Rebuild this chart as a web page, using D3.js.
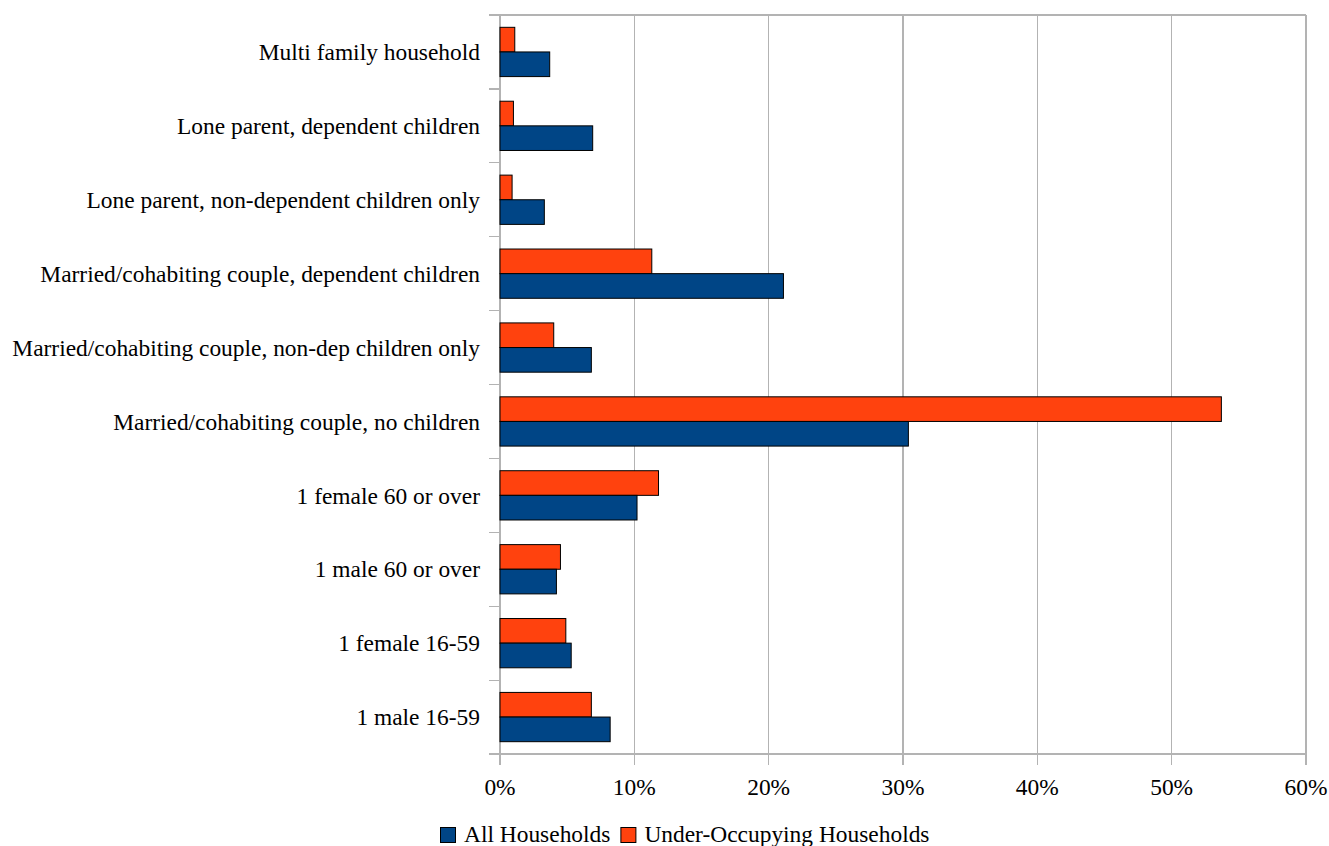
<!DOCTYPE html>
<html>
<head>
<meta charset="utf-8">
<script src="https://cdn.jsdelivr.net/npm/d3@7"></script>
<style>
  html, body { margin: 0; padding: 0; background: #fff; }
  svg { display: block; }
  text { font-family: "Liberation Serif", "DejaVu Serif", serif; fill: #000; }
</style>
</head>
<body>
<svg id="chart" width="1329" height="846"></svg>
<script>
// Data (bottom to top, as in the source spreadsheet)
const categories = [
  "1 male 16-59",
  "1 female 16-59",
  "1 male 60 or over",
  "1 female 60 or over",
  "Married/cohabiting couple, no children",
  "Married/cohabiting couple, non-dep children only",
  "Married/cohabiting couple, dependent children",
  "Lone parent, non-dependent children only",
  "Lone parent, dependent children",
  "Multi family household"
];
const allHouseholds      = [8.2, 5.3, 4.2, 10.2, 30.4, 6.8, 21.1, 3.3, 6.9, 3.7];
const underOccupying     = [6.8, 4.9, 4.5, 11.8, 53.7, 4.0, 11.3, 0.9, 1.0, 1.1];
const seriesNames        = ["All Households", "Under-Occupying Households"];
const seriesColors       = ["#004586", "#ff420e"];
const xTicks             = [0, 10, 20, 30, 40, 50, 60];
const xTickLabels        = ["0%", "10%", "20%", "30%", "40%", "50%", "60%"];

const svg = d3.select("#chart");
const margin = { left: 500, right: 1329 - 1306, top: 15, bottom: 846 - 754 };
const W = 1329, H = 846;

// font fitting: longest label should span ~468px
const probe = svg.append("text").attr("font-size", 20).text("Married/cohabiting couple, non-dep children only");
const w20 = probe.node().getComputedTextLength();
probe.remove();
const fs = 20 * 468 / w20;

const x = d3.scaleLinear().domain([0, 60]).range([margin.left, W - margin.right]);
const y = d3.scaleBand().domain(categories.slice().reverse()).range([margin.top, H - margin.bottom]).paddingInner(0).paddingOuter(0);
const sub = d3.scaleBand().domain(["under", "all"]).range([0, y.bandwidth()]).paddingInner(0).paddingOuter(0.5);

const grid = "#b3b3b3";

// vertical gridlines with ticks below axis
svg.append("g").selectAll("line").data(xTicks).join("line")
  .attr("x1", d => x(d)).attr("x2", d => x(d))
  .attr("y1", margin.top).attr("y2", H - margin.bottom + 11)
  .attr("stroke", grid).attr("stroke-width", 1.2).attr("shape-rendering", "crispEdges");

// category boundaries ticks (left)
const bounds = categories.map((c) => y(c)).concat([H - margin.bottom]);
svg.append("g").selectAll("line").data(bounds).join("line")
  .attr("x1", margin.left - 11).attr("x2", margin.left)
  .attr("y1", d => d).attr("y2", d => d)
  .attr("stroke", grid).attr("stroke-width", 1.2).attr("shape-rendering", "crispEdges");

// top and bottom frame lines
[margin.top, H - margin.bottom].forEach(yy => {
  svg.append("line").attr("x1", margin.left).attr("x2", W - margin.right)
    .attr("y1", yy).attr("y2", yy).attr("stroke", grid).attr("stroke-width", 1.2)
    .attr("shape-rendering", "crispEdges");
});

// bars
const rows = categories.map((c, i) => ({ c, all: allHouseholds[i], under: underOccupying[i] }));
const g = svg.append("g");
rows.forEach(r => {
  g.append("rect")
    .attr("x", x(0)).attr("y", y(r.c) + sub("under"))
    .attr("width", x(r.under) - x(0)).attr("height", sub.bandwidth())
    .attr("fill", seriesColors[1]).attr("stroke", "#000").attr("stroke-width", 1);
  g.append("rect")
    .attr("x", x(0)).attr("y", y(r.c) + sub("all"))
    .attr("width", x(r.all) - x(0)).attr("height", sub.bandwidth())
    .attr("fill", seriesColors[0]).attr("stroke", "#000").attr("stroke-width", 1);
});

// category labels
svg.append("g").selectAll("text").data(categories).join("text")
  .attr("x", margin.left - 20)
  .attr("y", d => y(d) + y.bandwidth() / 2)
  .attr("dy", "0.35em")
  .attr("text-anchor", "end")
  .attr("font-size", fs)
  .text(d => d);

// x tick labels
svg.append("g").selectAll("text").data(xTicks).join("text")
  .attr("x", d => x(d)).attr("y", 795)
  .attr("text-anchor", "middle")
  .attr("font-size", fs)
  .text((d, i) => xTickLabels[i]);

// legend
const leg = svg.append("g");
let lx = 440;
seriesNames.forEach((name, i) => {
  leg.append("rect").attr("x", lx + 0.5).attr("y", 827.5).attr("width", 15).attr("height", 15)
    .attr("fill", seriesColors[i]).attr("stroke", "#000").attr("stroke-width", 1);
  const t = leg.append("text").attr("x", lx + 24).attr("y", 842).attr("font-size", fs).text(name);
  lx = lx + 24 + t.node().getComputedTextLength() + 10;
});
</script>
</body>
</html>
